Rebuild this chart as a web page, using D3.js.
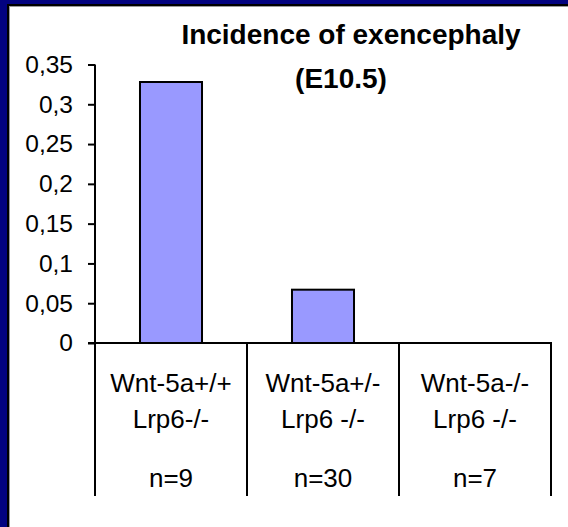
<!DOCTYPE html>
<html><head><meta charset="utf-8">
<script src="https://cdn.jsdelivr.net/npm/d3@7"></script>
<style>html,body{margin:0;padding:0;background:#fff;}svg{display:block;}</style>
</head><body>
<svg id="c" width="568" height="527"></svg>
<script>
const categories = ["Wnt-5a+/+|Lrp6-/-", "Wnt-5a+/-|Lrp6 -/-", "Wnt-5a-/-|Lrp6 -/-"];
const nLabels = ["n=9", "n=30", "n=7"];
const values = [0.328, 0.067, 0];
const tickValues = [0, 0.05, 0.1, 0.15, 0.2, 0.25, 0.3, 0.35];
const titleLines = ["Incidence of exencephaly", "(E10.5)"];

const svg = d3.select("#c");
const W = 568, H = 527;
const FONT = "'Liberation Sans', Arial, sans-serif";

// frame
svg.append("rect").attr("x",0).attr("y",0).attr("width",W).attr("height",H).attr("fill","#030380");
svg.append("rect").attr("x",7).attr("y",4).attr("width",W).attr("height",H).attr("fill","#000");
svg.append("rect").attr("x",9).attr("y",6).attr("width",W).attr("height",H).attr("fill","#9a9a9a");
svg.append("rect").attr("x",10).attr("y",7).attr("width",W).attr("height",H).attr("fill","#fff");

const x0 = 95, x1 = 551, yTop = 64.5, yBase = 343, yBottom = 496;
const y = d3.scaleLinear().domain([0, 0.35]).range([yBase, yTop]);
const x = d3.scaleBand().domain(categories).range([x0, x1]).padding(0);
const barW = x.bandwidth() * 0.408;

// bars
svg.append("g").selectAll("rect").data(categories.map((c,i)=>({c, v: values[i]})).filter(d=>d.v>0))
  .join("rect")
  .attr("x", d => x(d.c) + (x.bandwidth()-barW)/2)
  .attr("y", d => y(d.v))
  .attr("width", barW)
  .attr("height", d => y(0) - y(d.v))
  .attr("fill", "#9999ff")
  .attr("stroke", "#000")
  .attr("stroke-width", 2);

// y axis
const yAxis = d3.axisLeft(y).tickValues(tickValues).tickSize(7).tickPadding(15)
  .tickFormat(d => String(+d.toFixed(2)).replace(".", ","));
const gy = svg.append("g").attr("transform", `translate(${x0},0)`).call(yAxis);
gy.select(".domain").attr("stroke","#000").attr("stroke-width",2).attr("d", `M0,${yTop}V${yBase}`);
gy.selectAll(".tick line").attr("stroke","#000").attr("stroke-width",2);
gy.selectAll(".tick text").attr("fill","#000").style("font-family",FONT).style("font-size","24.5px");

// baseline and category table lines
svg.append("line").attr("x1", x0-7).attr("x2", x1+1).attr("y1", yBase).attr("y2", yBase)
  .attr("stroke","#000").attr("stroke-width",2);
const bounds = categories.map(c => x(c)).concat([x1]);
svg.append("g").selectAll("line").data(bounds).join("line")
  .attr("x1", d=>d).attr("x2", d=>d).attr("y1", yBase).attr("y2", yBottom)
  .attr("stroke","#000").attr("stroke-width",2);

// category labels
const lab = svg.append("g").style("font-family",FONT).style("font-size","26px").attr("fill","#000").attr("text-anchor","middle");
categories.forEach((c,i) => {
  const cx = x(c) + x.bandwidth()/2;
  const parts = c.split("|");
  lab.append("text").attr("x",cx).attr("y",391.5).text(parts[0]);
  lab.append("text").attr("x",cx).attr("y",428).text(parts[1]);
  lab.append("text").attr("x",cx).attr("y",486.5).text(nLabels[i]);
});

// title
const t = svg.append("g").style("font-family",FONT).style("font-weight","bold").style("font-size","28px").attr("fill","#000").attr("text-anchor","middle");
t.append("text").attr("x",351).attr("y",44).text(titleLines[0]);
t.append("text").attr("x",341).attr("y",88).text(titleLines[1]);
</script>
</body></html>
